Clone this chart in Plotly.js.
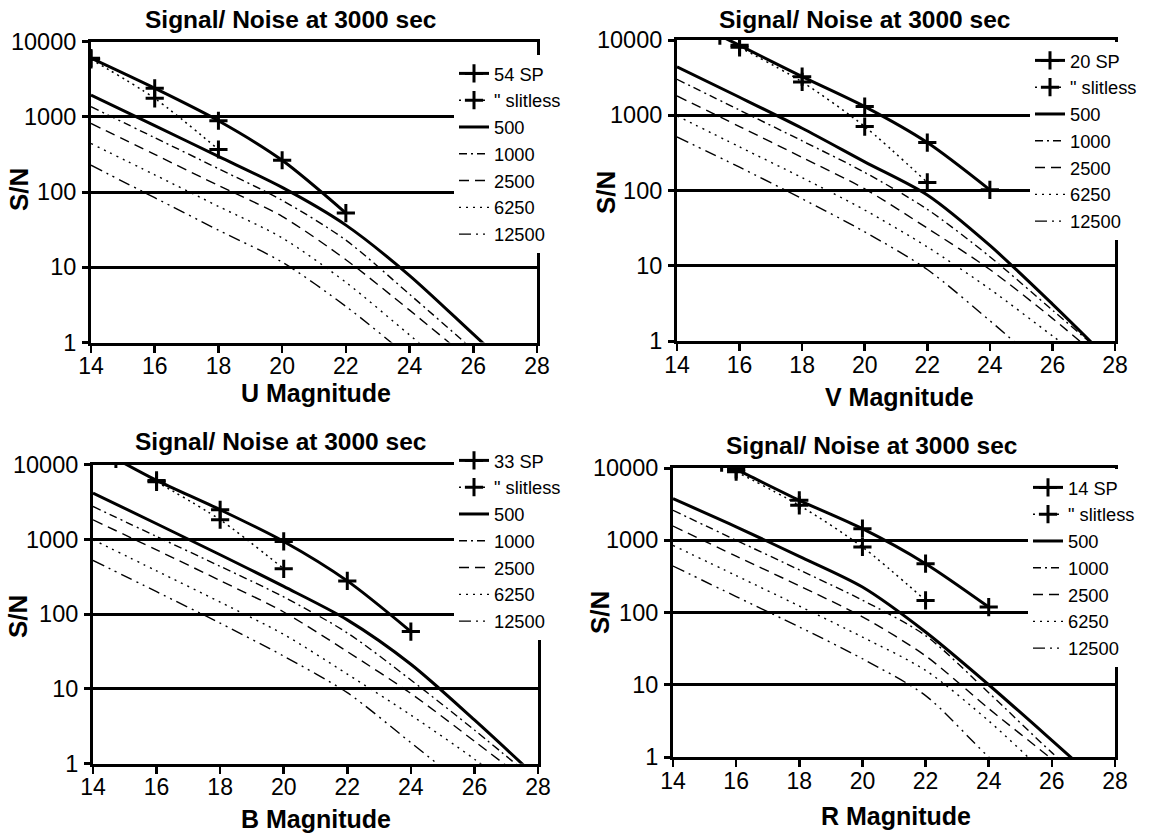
<!DOCTYPE html>
<html>
<head>
<meta charset="utf-8">
<script src="https://cdn.plot.ly/plotly-3.0.1.min.js"></script>
<style>
html,body{margin:0;padding:0;background:#ffffff;}
#chart{width:1156px;height:835px;}
</style>
</head>
<body>
<div id="chart"></div>
<script>
// ---------- shared axes / labels ----------
const magGrid = [14, 16, 18, 20, 22, 24, 26, 28];
const xTickVals = [14, 16, 18, 20, 22, 24, 26, 28];
const xTickText = ['14', '16', '18', '20', '22', '24', '26', '28'];
const yTickVals = [1, 10, 100, 1000, 10000];
const yTickText = ['1', '10', '100', '1000', '10000'];
const resNames = ['500', '1000', '2500', '6250', '12500'];
const chartTitle = 'Signal/ Noise at 3000 sec';
const yTitle = 'S/N';

// ---------- U band ----------
const uSPName = '54 SP';
const uSP_x = [14, 16, 18, 20, 22];
const uSP_y = [6000, 2390, 885, 264, 52.5];
const uSlit_x = [14, 16, 18];
const uSlit_y = [5800, 1755, 367];
const u500 = [1945, 762, 297, 115, 36.3, 7.76, 1.29, 0.214];
const u1000 = [1358, 527, 204, 77.6, 22.9, 4.37, 0.794, 0.138];
const u2500 = [815, 316, 122, 47.4, 12.6, 2.69, 0.537, 0.1];
const u6250 = [441, 169, 64.4, 24.6, 6.31, 1.26, 0.251, 0.05];
const u12500 = [227, 84, 31.1, 11.7, 3.02, 0.631, 0.126, 0.025];

// ---------- V band ----------
const vSPName = '20 SP';
const vSP_x = [15.37, 16, 18, 20, 22, 24];
const vSP_y = [11400, 8500, 3260, 1303, 434, 102];
const vSlit_x = [16, 18, 20, 22];
const vSlit_y = [8000, 2770, 707, 128];
const v500 = [4385, 1734, 671, 240, 87.1, 18.6, 3.09, 0.468];
const v1000 = [3006, 1169, 457, 174, 56.2, 13.2, 2.57, 0.501];
const v2500 = [1807, 708, 275, 105, 31.6, 8.91, 2.0, 0.398];
const v6250 = [980, 380, 148, 55, 17.8, 4.9, 1.17, 0.282];
const v12500 = [515, 204, 77.6, 28.2, 8.91, 1.86, 0.355, 0.0708];

// ---------- B band ----------
const bSPName = '33 SP';
const bSP_x = [14.72, 16, 18, 20, 22, 24];
const bSP_y = [12000, 6170, 2495, 940, 279, 58.6];
const bSlit_x = [16, 18, 20];
const bSlit_y = [5900, 1834, 405];
const b500 = [4178, 1622, 624, 235, 84, 21.4, 3.85, 0.631];
const b1000 = [2767, 1096, 437, 170, 56.2, 13.2, 2.82, 0.562];
const b2500 = [1832, 724, 282, 107, 31.6, 8.71, 2.0, 0.447];
const b6250 = [991, 380, 145, 53.7, 15.8, 4.47, 1.15, 0.251];
const b12500 = [524, 200, 75.9, 27.5, 8.91, 1.91, 0.398, 0.0794];

// ---------- R band ----------
const rSPName = '14 SP';
const rSP_x = [15.54, 16, 18, 20, 22, 24];
const rSP_y = [11850, 9560, 3570, 1445, 474, 119];
const rSlit_x = [16, 18, 20, 22];
const rSlit_y = [8900, 3040, 806, 147];
const r500 = [3758, 1535, 598, 225, 53.7, 10, 1.7, 0.282];
const r1000 = [2594, 1000, 389, 148, 47.9, 7.76, 1.15, 0.2];
const r2500 = [1574, 603, 234, 87.1, 25.1, 4.68, 0.933, 0.178];
const r6250 = [849, 324, 123, 45.7, 15.8, 3.16, 0.5, 0.1];
const r12500 = [440, 166, 63.1, 22.9, 7.08, 1.0, 0.178, 0.0316];

const slitName = '" slitless';
const bandLabels = ['U Magnitude', 'V Magnitude', 'B Magnitude', 'R Magnitude'];

// ---------- layout helpers (page pixels -> paper) ----------
const W = 1156, H = 835;
const px = v => v / W;
const py = v => 1 - v / H;
const FONT = 'Liberation Sans, Arial, Helvetica, sans-serif';

const panels = [
  {sp: [uSPName, uSP_x, uSP_y], slit: [uSlit_x, uSlit_y], res: [u500, u1000, u2500, u6250, u12500],
   dom: [91, 537, 41.5, 342.5], leg: [454, 55], title: [290, 19], xt: [316, 393], yt: [19, 190]},
  {sp: [vSPName, vSP_x, vSP_y], slit: [vSlit_x, vSlit_y], res: [v500, v1000, v2500, v6250, v12500],
   dom: [677, 1115, 40, 341], leg: [1030, 42], title: [864, 19], xt: [899, 397], yt: [606, 193]},
  {sp: [bSPName, bSP_x, bSP_y], slit: [bSlit_x, bSlit_y], res: [b500, b1000, b2500, b6250, b12500],
   dom: [93, 538, 464.7, 763.7], leg: [454, 442], title: [280, 441], xt: [316, 819], yt: [18, 617]},
  {sp: [rSPName, rSP_x, rSP_y], slit: [rSlit_x, rSlit_y], res: [r500, r1000, r2500, r6250, r12500],
   dom: [673, 1115, 468, 757], leg: [1028, 469], title: [871, 445], xt: [896, 816], yt: [600, 613]}
];

const resStyles = [
  {width: 3, dash: 'solid'},
  {width: 1.4, dash: '8px,4px,2px,4px'},
  {width: 1.4, dash: '10px,6px'},
  {width: 1.4, dash: '2px,5px'},
  {width: 1.4, dash: '12px,5px,2px,5px,2px,5px'}
];
const crossMarker = {symbol: 'cross-thin', size: 13, color: '#000', line: {width: 3, color: '#000'}};

const traces = [];
const layout = {
  width: W, height: H,
  margin: {l: 0, r: 0, t: 0, b: 0},
  paper_bgcolor: '#fff', plot_bgcolor: '#fff',
  font: {family: FONT, color: '#000', size: 22},
  annotations: []
};

panels.forEach((p, i) => {
  const n = i + 1;
  const xa = n === 1 ? 'x' : 'x' + n;
  const ya = n === 1 ? 'y' : 'y' + n;
  const legKey = n === 1 ? 'legend' : 'legend' + n;

  traces.push({
    x: p.sp[1], y: p.sp[2], name: p.sp[0], xaxis: xa, yaxis: ya, legend: legKey,
    mode: 'lines+markers', line: {color: '#000', width: 3, shape: 'spline', smoothing: 0.8},
    marker: crossMarker, showlegend: true
  });
  traces.push({
    x: p.slit[0], y: p.slit[1], name: slitName, xaxis: xa, yaxis: ya, legend: legKey,
    mode: 'lines+markers', line: {color: '#000', width: 1.5, dash: '2px,4px', shape: 'spline', smoothing: 0.8},
    marker: crossMarker, showlegend: true
  });
  p.res.forEach((vals, k) => {
    traces.push({
      x: magGrid, y: vals, name: resNames[k], xaxis: xa, yaxis: ya, legend: legKey,
      mode: 'lines', line: {color: '#000', width: resStyles[k].width, dash: resStyles[k].dash, shape: 'spline', smoothing: 0.8},
      showlegend: true
    });
  });

  layout['xaxis' + (n === 1 ? '' : n)] = {
    domain: [px(p.dom[0]), px(p.dom[1])], anchor: ya,
    range: [14, 28], tickvals: xTickVals, ticktext: xTickText,
    showgrid: false, zeroline: false,
    showline: true, linecolor: '#000', linewidth: 3, mirror: true,
    ticks: 'outside', ticklen: 7, tickwidth: 2.5, tickcolor: '#000',
    tickfont: {family: FONT, size: 23, color: '#000'}, ticklabelstandoff: -6,
    fixedrange: true
  };
  layout['yaxis' + (n === 1 ? '' : n)] = {
    domain: [py(p.dom[3]), py(p.dom[2])], anchor: xa,
    type: 'log', range: [0, 4], tickvals: yTickVals, ticktext: yTickText,
    showgrid: true, gridcolor: '#000', gridwidth: 3,
    showline: true, linecolor: '#000', linewidth: 3, mirror: true,
    ticks: 'outside', ticklen: 6, tickwidth: 3, tickcolor: '#000',
    tickfont: {family: FONT, size: 23.5, color: '#000'}, ticklabelstandoff: 1,
    fixedrange: true
  };
  layout[legKey] = {
    x: px(p.leg[0]), y: py(p.leg[1]), xanchor: 'left', yanchor: 'top',
    bgcolor: '#fff', borderwidth: 0, font: {family: FONT, size: 18.3, color: '#000'},
    traceorder: 'normal', itemwidth: 30, tracegroupgap: 0
  };

  layout.annotations.push({
    text: '<b>' + chartTitle + '</b>', x: px(p.title[0]), y: py(p.title[1]),
    xref: 'paper', yref: 'paper', xanchor: 'center', yanchor: 'middle', showarrow: false,
    font: {family: FONT, size: 24.5, color: '#000'}
  });
  layout.annotations.push({
    text: '<b>' + bandLabels[i] + '</b>', x: px(p.xt[0]), y: py(p.xt[1]),
    xref: 'paper', yref: 'paper', xanchor: 'center', yanchor: 'middle', showarrow: false,
    font: {family: FONT, size: 25, color: '#000'}
  });
  layout.annotations.push({
    text: '<b>' + yTitle + '</b>', x: px(p.yt[0]), y: py(p.yt[1]), textangle: -90,
    xref: 'paper', yref: 'paper', xanchor: 'center', yanchor: 'middle', showarrow: false,
    font: {family: FONT, size: 26, color: '#000'}
  });
});

Plotly.newPlot('chart', traces, layout, {staticPlot: true, displayModeBar: false});
</script>
</body>
</html>
